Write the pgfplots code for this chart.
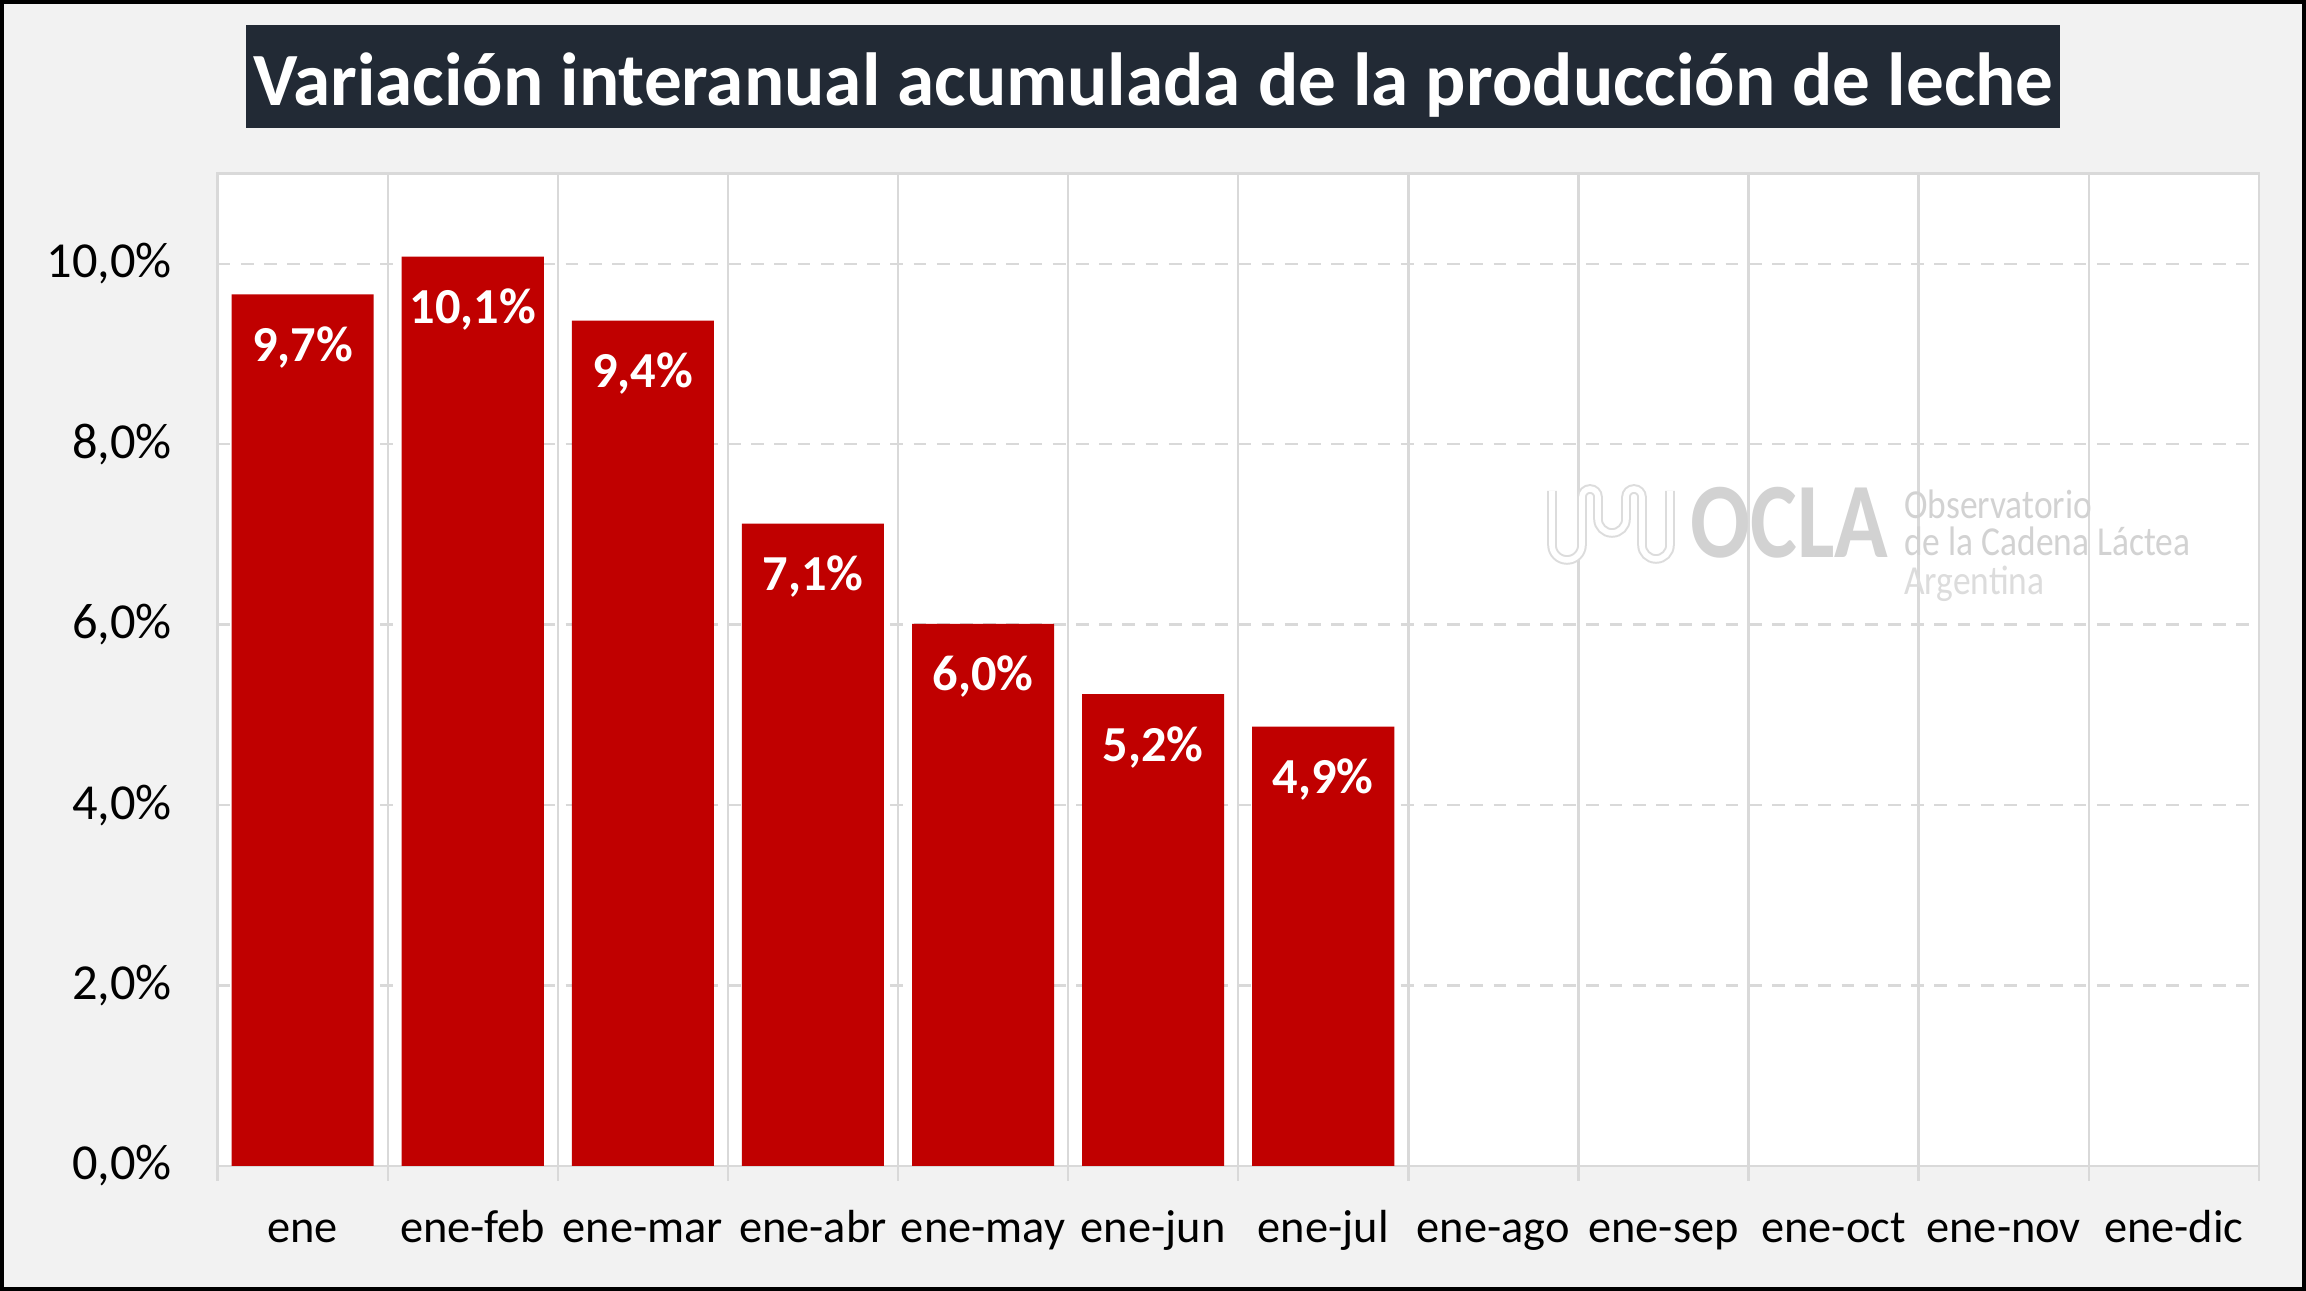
\documentclass[border=0pt]{standalone}
\usepackage{pgfplots}
\pgfplotsset{compat=1.18}
\usepackage{fontspec}
\setmainfont{Carlito}
\definecolor{barred}{HTML}{C00000}
\definecolor{titlebg}{HTML}{222A35}
\definecolor{gridgray}{HTML}{D9D9D9}
\definecolor{outerbg}{HTML}{F2F2F2}
\definecolor{logogray}{HTML}{D2D2D2}
\definecolor{logolight}{HTML}{DCDCDC}
\begin{document}
\begin{tikzpicture}
\useasboundingbox (0,0) rectangle (576.5pt,322.75pt);
\fill[outerbg] (0,0) rectangle (576.5pt,322.75pt);
\fill[titlebg] (61.6pt,290.8pt) rectangle (515pt,316.5pt);
\node[anchor=base, text=white, font=\fontsize{18.8}{22}\selectfont\bfseries, inner sep=0pt] at (288.3pt,296.25pt) {Variación interanual acumulada de la producción de leche};
\begin{axis}[
  at={(54.4pt,31.25pt)}, anchor=south west,
  scale only axis, width=510.3pt, height=248.1pt,
  xmin=-0.5, xmax=11.5, ymin=0, ymax=11,
  ybar, bar width=0.835,
  axis background/.style={fill=white},
  axis line style={draw=gridgray, line width=0.6pt},
  /pgf/number format/assume math mode=true,
  xtick={0,...,11},
  xticklabels={ene,ene-feb,ene-mar,ene-abr,ene-may,ene-jun,ene-jul,ene-ago,ene-sep,ene-oct,ene-nov,ene-dic},
  major tick length=0pt,
  ytick={0,2,4,6,8,10},
  yticklabels={{0,0\%},{2,0\%},{4,0\%},{6,0\%},{8,0\%},{10,0\%}},
  ymajorgrids,
  major grid style={draw=gridgray, dash pattern=on 3.2pt off 2.6pt, line width=0.6pt},
  extra x ticks={-0.5,0.5,...,11.5},
  extra x tick labels={},
  extra x tick style={xmajorgrids=true, ymajorgrids=false, major grid style={solid, draw=gridgray, line width=0.6pt}, major tick length=3.75pt, tick align=outside, tick style={draw=gridgray, line width=0.6pt}},
  xtick pos=bottom, ytick pos=left,
  xticklabel style={anchor=base, yshift=-19.2pt, font=\fontsize{11.6}{14}\selectfont},
  yticklabel style={anchor=east, xshift=-7.9pt, font=\fontsize{12.6}{14}\selectfont},
  nodes near coords={\pgfmathprintnumber[fixed,fixed zerofill,precision=1,use comma]{\pgfplotspointmeta}\%},
  every node near coord/.append style={anchor=base, yshift=-16.8pt, text=white, font=\fontsize{12.6}{14}\selectfont\bfseries},
]
\addplot[fill=barred, draw=none] coordinates {(0,9.66) (1,10.08) (2,9.37) (3,7.12) (4,6.01) (5,5.23) (6,4.87)};
\end{axis}
% watermark logo
\draw[logolight, line width=0.5pt, double=white, double distance=1.4pt]
  (388pt,200pt) -- (388pt,186.5pt) arc[start angle=180,end angle=360,radius=3.75pt]
  -- (395.5pt,198.5pt) arc[start angle=180,end angle=0,radius=2pt]
  -- (399.5pt,193pt) arc[start angle=180,end angle=360,radius=3.5pt]
  -- (406.5pt,198.5pt) arc[start angle=180,end angle=0,radius=2pt]
  -- (410.5pt,186.5pt) arc[start angle=180,end angle=360,radius=3.5pt]
  -- (417.5pt,200pt);
\node[anchor=base west, inner sep=0pt, text=logogray, xscale=0.825, font=\fontsize{26.8}{30}\selectfont\bfseries] at (422.5pt,183.25pt) {OCLA};
\node[anchor=base west, inner sep=0pt, text=logogray, xscale=0.86, font=\fontsize{10.3}{12}\selectfont] at (475.9pt,193.2pt) {Observatorio};
\node[anchor=base west, inner sep=0pt, text=logogray, xscale=0.86, font=\fontsize{10.3}{12}\selectfont] at (475.9pt,183.75pt) {de la Cadena Láctea};
\node[anchor=base west, inner sep=0pt, text=logolight, xscale=0.86, font=\fontsize{10.3}{12}\selectfont] at (475.9pt,174.2pt) {Argentina};
\draw[black, line width=0.9pt] (0.45pt,0.45pt) rectangle (576.05pt,322.3pt);
\end{tikzpicture}
\end{document}
